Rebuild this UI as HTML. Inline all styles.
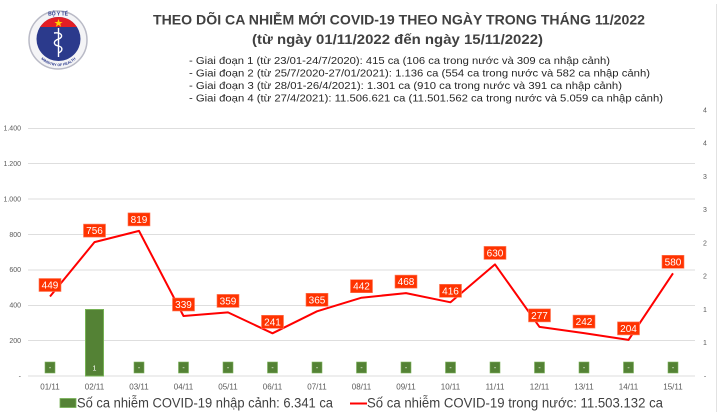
<!DOCTYPE html>
<html>
<head>
<meta charset="utf-8">
<style>
html,body{margin:0;padding:0;background:#fff;}
svg{display:block;}
text{font-family:"Liberation Sans",sans-serif;}
</style>
</head>
<body>
<svg width="720" height="412" viewBox="0 0 720 412" xmlns="http://www.w3.org/2000/svg">
<rect width="720" height="412" fill="#fff"/>
<line x1="716.5" y1="4" x2="716.5" y2="412" stroke="#e2e2e2" stroke-width="1"/>

<!-- Logo -->
<g>
  <circle cx="58" cy="40" r="29" fill="#f4f4f6" stroke="#b9bac6" stroke-width="1.5"/>
  <defs><clipPath id="inner"><circle cx="58.5" cy="39" r="22"/></clipPath></defs>
  <circle cx="58.5" cy="39" r="22" fill="#2b3a8c"/>
  <rect x="30" y="10" width="60" height="17" fill="#e31e24" clip-path="url(#inner)"/>
  <polygon points="58.5,19 59.6,22 62.6,22 60.2,23.8 61.1,26.7 58.5,24.9 55.9,26.7 56.8,23.8 54.4,22 57.4,22" fill="#ffd200"/>
  <line x1="58.5" y1="28" x2="58.5" y2="57" stroke="#fff" stroke-width="1.4"/>
  <path d="M54,33 C62,32 64,37 58.5,39 C53,41 53,45 58.5,46 C63,47 63,51 58.5,53" fill="none" stroke="#fff" stroke-width="1.4"/>
  <text x="58" y="15.5" font-size="5" font-weight="bold" fill="#2b3a8c" text-anchor="middle">BỘ Y TẾ</text>
  <path id="arcb" d="M36,52 A25,25 0 0 0 81,52" fill="none"/>
  <text font-size="3.6" fill="#2b3a8c" font-weight="bold"><textPath href="#arcb" startOffset="50%" text-anchor="middle">MINISTRY OF HEALTH</textPath></text>
</g>

<!-- Title -->
<text x="153" y="24.5" font-size="13.5" font-weight="bold" fill="#404040" textLength="492" lengthAdjust="spacingAndGlyphs">THEO DÕI CA NHIỄM MỚI COVID-19 THEO NGÀY TRONG THÁNG 11/2022</text>
<text x="252" y="44" font-size="13.5" font-weight="bold" fill="#404040" textLength="291" lengthAdjust="spacingAndGlyphs">(từ ngày 01/11/2022 đến ngày 15/11/2022)</text>
<g font-size="10.5" fill="#262626">
<text x="189" y="64" textLength="421" lengthAdjust="spacingAndGlyphs">- Giai đoạn 1 (từ 23/01-24/7/2020): 415 ca (106 ca trong nước và 309 ca nhập cảnh)</text>
<text x="189" y="76.5" textLength="461" lengthAdjust="spacingAndGlyphs">- Giai đoạn 2 (từ 25/7/2020-27/01/2021): 1.136 ca (554 ca trong nước và 582 ca nhập cảnh)</text>
<text x="189" y="89" textLength="433" lengthAdjust="spacingAndGlyphs">- Giai đoạn 3 (từ 28/01-26/4/2021): 1.301 ca (910 ca trong nước và 391 ca nhập cảnh)</text>
<text x="189" y="101.5" textLength="474" lengthAdjust="spacingAndGlyphs">- Giai đoạn 4 (từ 27/4/2021): 11.506.621 ca (11.501.562 ca trong nước và 5.059 ca nhập cảnh)</text>
</g>

<!-- Gridlines -->
<g stroke="#dedede" stroke-width="1">
<line x1="28" y1="128.5" x2="695" y2="128.5"/>
<line x1="28" y1="163.5" x2="695" y2="163.5"/>
<line x1="28" y1="199" x2="695" y2="199"/>
<line x1="28" y1="234.5" x2="695" y2="234.5"/>
<line x1="28" y1="270" x2="695" y2="270"/>
<line x1="28" y1="305.5" x2="695" y2="305.5"/>
<line x1="28" y1="340.5" x2="695" y2="340.5"/>
<line x1="28" y1="376" x2="695" y2="376"/>
</g>

<!-- Left axis labels -->
<g font-size="7" fill="#595959" text-anchor="end">
<text x="21" y="130.5">1.400</text>
<text x="21" y="165.9">1.200</text>
<text x="21" y="201.4">1.000</text>
<text x="21" y="236.8">800</text>
<text x="21" y="272.2">600</text>
<text x="21" y="307.6">400</text>
<text x="21" y="343.1">200</text>
<text x="21" y="378.5">-</text>
</g>

<!-- Right axis labels -->
<g font-size="7" fill="#595959" text-anchor="middle">
<text x="705" y="378.5">-</text>
<text x="705" y="345.2">1</text>
<text x="705" y="312">1</text>
<text x="705" y="278.7">2</text>
<text x="705" y="245.5">2</text>
<text x="705" y="212.2">3</text>
<text x="705" y="179">3</text>
<text x="705" y="145.7">4</text>
<text x="705" y="112.5">4</text>
</g>

<!-- Bar -->
<rect x="85.5" y="309.5" width="18" height="66.5" fill="#548235" stroke="#76b255" stroke-width="1"/>

<!-- Green labels -->
<g fill="#548235" stroke="#7cb35c" stroke-width="0.6">
<rect x="45" y="362" width="10" height="11"/>
<rect x="134" y="362" width="10" height="11"/>
<rect x="178.5" y="362" width="10" height="11"/>
<rect x="223" y="362" width="10" height="11"/>
<rect x="267.5" y="362" width="10" height="11"/>
<rect x="312" y="362" width="10" height="11"/>
<rect x="356.5" y="362" width="10" height="11"/>
<rect x="401" y="362" width="10" height="11"/>
<rect x="445.5" y="362" width="10" height="11"/>
<rect x="490" y="362" width="10" height="11"/>
<rect x="534.5" y="362" width="10" height="11"/>
<rect x="579" y="362" width="10" height="11"/>
<rect x="623.5" y="362" width="10" height="11"/>
<rect x="668" y="362" width="10" height="11"/>
</g>
<g font-size="7" fill="#fff" text-anchor="middle">
<text x="50" y="370">-</text>
<text x="94.5" y="370.5">1</text>
<text x="139" y="370">-</text>
<text x="183.5" y="370">-</text>
<text x="228" y="370">-</text>
<text x="272.5" y="370">-</text>
<text x="317" y="370">-</text>
<text x="361.5" y="370">-</text>
<text x="406" y="370">-</text>
<text x="450.5" y="370">-</text>
<text x="495" y="370">-</text>
<text x="539.5" y="370">-</text>
<text x="584" y="370">-</text>
<text x="628.5" y="370">-</text>
<text x="673" y="370">-</text>
</g>

<!-- Line -->
<polyline fill="none" stroke="#ff0000" stroke-width="2" stroke-linejoin="round"
points="50,296.5 94.5,242.1 139,230.9 183.5,316 228,312.4 272.5,333.3 317,311.3 361.5,297.7 406,293.1 450.5,302.3 495,264.4 539.5,326.9 584,333.1 628.5,339.9 673,273.3"/>

<!-- Red labels -->
<g fill="#ff3300" stroke="#ff7a5a" stroke-width="0.6">
<rect x="39" y="278.5" width="22" height="13"/>
<rect x="83.5" y="224.1" width="22" height="13"/>
<rect x="128" y="212.9" width="22" height="13"/>
<rect x="172.5" y="298" width="22" height="13"/>
<rect x="217" y="294.4" width="22" height="13"/>
<rect x="261.5" y="315.3" width="22" height="13"/>
<rect x="306" y="293.3" width="22" height="13"/>
<rect x="350.5" y="279.7" width="22" height="13"/>
<rect x="395" y="275.1" width="22" height="13"/>
<rect x="439.5" y="284.3" width="22" height="13"/>
<rect x="484" y="246.4" width="22" height="13"/>
<rect x="528.5" y="308.9" width="22" height="13"/>
<rect x="573" y="315.1" width="22" height="13"/>
<rect x="617.5" y="321.9" width="22" height="13"/>
<rect x="662" y="255.3" width="22" height="13"/>
</g>
<g font-size="10" fill="#fff" text-anchor="middle">
<text x="50" y="288.5">449</text>
<text x="94.5" y="234.1">756</text>
<text x="139" y="222.9">819</text>
<text x="183.5" y="308">339</text>
<text x="228" y="304.4">359</text>
<text x="272.5" y="325.3">241</text>
<text x="317" y="303.3">365</text>
<text x="361.5" y="289.7">442</text>
<text x="406" y="285.1">468</text>
<text x="450.5" y="294.3">416</text>
<text x="495" y="256.4">630</text>
<text x="539.5" y="318.9">277</text>
<text x="584" y="325.1">242</text>
<text x="628.5" y="331.9">204</text>
<text x="673" y="265.3">580</text>
</g>

<!-- X labels -->
<g font-size="8" fill="#595959" text-anchor="middle">
<text x="50" y="389.5">01/11</text>
<text x="94.5" y="389.5">02/11</text>
<text x="139" y="389.5">03/11</text>
<text x="183.5" y="389.5">04/11</text>
<text x="228" y="389.5">05/11</text>
<text x="272.5" y="389.5">06/11</text>
<text x="317" y="389.5">07/11</text>
<text x="361.5" y="389.5">08/11</text>
<text x="406" y="389.5">09/11</text>
<text x="450.5" y="389.5">10/11</text>
<text x="495" y="389.5">11/11</text>
<text x="539.5" y="389.5">12/11</text>
<text x="584" y="389.5">13/11</text>
<text x="628.5" y="389.5">14/11</text>
<text x="673" y="389.5">15/11</text>
</g>

<!-- Legend -->
<rect x="60" y="398.5" width="16" height="9" fill="#548235" stroke="#76b255" stroke-width="0.8"/>
<text x="77" y="407.5" font-size="13.5" fill="#404040" textLength="256" lengthAdjust="spacingAndGlyphs">Số ca nhiễm COVID-19 nhập cảnh: 6.341 ca</text>
<line x1="350" y1="403.5" x2="367" y2="403.5" stroke="#ff0000" stroke-width="2"/>
<text x="367" y="407.5" font-size="13.5" fill="#404040" textLength="296" lengthAdjust="spacingAndGlyphs">Số ca nhiễm COVID-19 trong nước: 11.503.132 ca</text>
</svg>
</body>
</html>
